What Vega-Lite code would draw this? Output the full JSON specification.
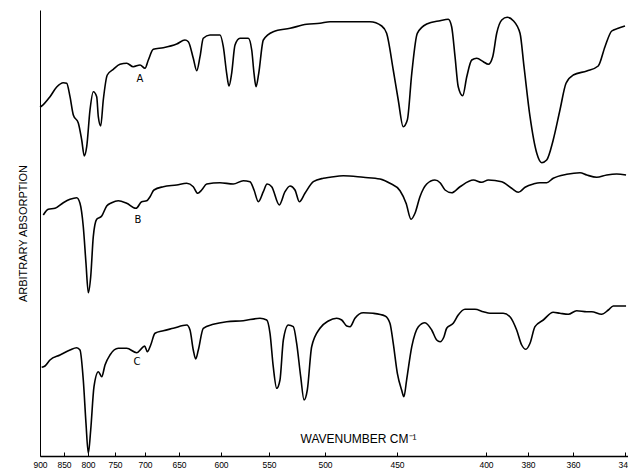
{
  "$schema": "https://vega.github.io/schema/vega-lite/v6.json",
  "width": 588,
  "height": 446,
  "autosize": "none",
  "padding": {"left": 40, "top": 10, "right": 0, "bottom": 12},
  "background": "white",
  "config": {"view": {"stroke": null}},
  "datasets": {
    "spectra": [
      {"sample":"A","wavenumber":900,"absorption":348},{"sample":"A","wavenumber":896.5,"absorption":349},{"sample":"A","wavenumber":879.2,"absorption":358.3},{"sample":"A","wavenumber":865.2,"absorption":368},{"sample":"A","wavenumber":851.5,"absorption":372.3},{"sample":"A","wavenumber":844.4,"absorption":371.7},{"sample":"A","wavenumber":837.5,"absorption":358.3},{"sample":"A","wavenumber":830.6,"absorption":340},{"sample":"A","wavenumber":820.2,"absorption":332},{"sample":"A","wavenumber":813.1,"absorption":315},{"sample":"A","wavenumber":807.7,"absorption":299},{"sample":"A","wavenumber":802.7,"absorption":308.3},{"sample":"A","wavenumber":796.3,"absorption":345},{"sample":"A","wavenumber":790.2,"absorption":363.3},{"sample":"A","wavenumber":783.9,"absorption":358.3},{"sample":"A","wavenumber":780.9,"absorption":338.3},{"sample":"A","wavenumber":776.5,"absorption":329},{"sample":"A","wavenumber":771.7,"absorption":355},{"sample":"A","wavenumber":764.3,"absorption":380},{"sample":"A","wavenumber":753.1,"absorption":385.7},{"sample":"A","wavenumber":741.7,"absorption":390.7},{"sample":"A","wavenumber":730.5,"absorption":391.7},{"sample":"A","wavenumber":719.5,"absorption":388.3},{"sample":"A","wavenumber":708.3,"absorption":390},{"sample":"A","wavenumber":700,"absorption":386.7},{"sample":"A","wavenumber":695.1,"absorption":395},{"sample":"A","wavenumber":687.8,"absorption":405.7},{"sample":"A","wavenumber":673.1,"absorption":407.3},{"sample":"A","wavenumber":653.4,"absorption":411},{"sample":"A","wavenumber":642.9,"absorption":415},{"sample":"A","wavenumber":638.9,"absorption":413.3},{"sample":"A","wavenumber":633,"absorption":396.7},{"sample":"A","wavenumber":628.9,"absorption":384.3},{"sample":"A","wavenumber":625,"absorption":398.3},{"sample":"A","wavenumber":621.1,"absorption":416.7},{"sample":"A","wavenumber":613.1,"absorption":420},{"sample":"A","wavenumber":601.2,"absorption":420},{"sample":"A","wavenumber":597.6,"absorption":408.3},{"sample":"A","wavenumber":594.1,"absorption":381.7},{"sample":"A","wavenumber":591.7,"absorption":369},{"sample":"A","wavenumber":588.9,"absorption":381.7},{"sample":"A","wavenumber":585.4,"absorption":410},{"sample":"A","wavenumber":580.2,"absorption":416.7},{"sample":"A","wavenumber":571.6,"absorption":416.7},{"sample":"A","wavenumber":568,"absorption":405},{"sample":"A","wavenumber":565.6,"absorption":381.7},{"sample":"A","wavenumber":563.5,"absorption":368.3},{"sample":"A","wavenumber":560.7,"absorption":381.7},{"sample":"A","wavenumber":555.9,"absorption":415},{"sample":"A","wavenumber":546.2,"absorption":423.3},{"sample":"A","wavenumber":531.2,"absorption":426.7},{"sample":"A","wavenumber":516.4,"absorption":430.7},{"sample":"A","wavenumber":504.5,"absorption":431.7},{"sample":"A","wavenumber":496.5,"absorption":433.3},{"sample":"A","wavenumber":489.6,"absorption":433.3},{"sample":"A","wavenumber":468.8,"absorption":433.3},{"sample":"A","wavenumber":460.6,"absorption":429},{"sample":"A","wavenumber":457.2,"absorption":421.7},{"sample":"A","wavenumber":452.6,"absorption":385},{"sample":"A","wavenumber":449.3,"absorption":355},{"sample":"A","wavenumber":446.5,"absorption":328.3},{"sample":"A","wavenumber":444.2,"absorption":335},{"sample":"A","wavenumber":441.7,"absorption":381.7},{"sample":"A","wavenumber":438.6,"absorption":421.7},{"sample":"A","wavenumber":433.3,"absorption":431},{"sample":"A","wavenumber":425.8,"absorption":434.3},{"sample":"A","wavenumber":421.2,"absorption":435.7},{"sample":"A","wavenumber":419.3,"absorption":428.3},{"sample":"A","wavenumber":417.4,"absorption":398.3},{"sample":"A","wavenumber":415.6,"absorption":368.3},{"sample":"A","wavenumber":413.1,"absorption":359.3},{"sample":"A","wavenumber":410.8,"absorption":378.3},{"sample":"A","wavenumber":408,"absorption":395},{"sample":"A","wavenumber":405.2,"absorption":396.7},{"sample":"A","wavenumber":401.5,"absorption":393.3},{"sample":"A","wavenumber":398.9,"absorption":390.7},{"sample":"A","wavenumber":396.8,"absorption":398.3},{"sample":"A","wavenumber":394.9,"absorption":421.7},{"sample":"A","wavenumber":392.5,"absorption":435},{"sample":"A","wavenumber":389.9,"absorption":437.7},{"sample":"A","wavenumber":387,"absorption":434.3},{"sample":"A","wavenumber":383.8,"absorption":421.7},{"sample":"A","wavenumber":381.9,"absorption":388.3},{"sample":"A","wavenumber":379.1,"absorption":338.3},{"sample":"A","wavenumber":376.1,"absorption":301.7},{"sample":"A","wavenumber":373.9,"absorption":292.3},{"sample":"A","wavenumber":371.7,"absorption":295},{"sample":"A","wavenumber":368.8,"absorption":315},{"sample":"A","wavenumber":365.8,"absorption":345},{"sample":"A","wavenumber":363.1,"absorption":371.7},{"sample":"A","wavenumber":359.9,"absorption":380},{"sample":"A","wavenumber":354.7,"absorption":384},{"sample":"A","wavenumber":350.3,"absorption":389},{"sample":"A","wavenumber":347.7,"absorption":408.3},{"sample":"A","wavenumber":345.1,"absorption":424},{"sample":"A","wavenumber":342.6,"absorption":426.7},{"sample":"A","wavenumber":340,"absorption":429},
      {"sample":"B","wavenumber":893.1,"absorption":240},{"sample":"B","wavenumber":882.7,"absorption":245.7},{"sample":"B","wavenumber":868.8,"absorption":246.7},{"sample":"B","wavenumber":851.5,"absorption":252.3},{"sample":"B","wavenumber":837.5,"absorption":255.7},{"sample":"B","wavenumber":823.5,"absorption":257.3},{"sample":"B","wavenumber":816.7,"absorption":251.7},{"sample":"B","wavenumber":809.8,"absorption":228.3},{"sample":"B","wavenumber":804.2,"absorption":191.7},{"sample":"B","wavenumber":799.4,"absorption":162.3},{"sample":"B","wavenumber":795,"absorption":178.3},{"sample":"B","wavenumber":790.2,"absorption":218.3},{"sample":"B","wavenumber":783.9,"absorption":235.7},{"sample":"B","wavenumber":774.6,"absorption":239},{"sample":"B","wavenumber":765.4,"absorption":249},{"sample":"B","wavenumber":756.1,"absorption":252.3},{"sample":"B","wavenumber":744.5,"absorption":254.3},{"sample":"B","wavenumber":730.5,"absorption":251.7},{"sample":"B","wavenumber":715,"absorption":246.7},{"sample":"B","wavenumber":705.5,"absorption":253.3},{"sample":"B","wavenumber":697.5,"absorption":254.3},{"sample":"B","wavenumber":692.6,"absorption":258.3},{"sample":"B","wavenumber":686.8,"absorption":265},{"sample":"B","wavenumber":673.1,"absorption":268.3},{"sample":"B","wavenumber":653.4,"absorption":270},{"sample":"B","wavenumber":640.8,"absorption":271.7},{"sample":"B","wavenumber":633,"absorption":268.3},{"sample":"B","wavenumber":627.7,"absorption":261.7},{"sample":"B","wavenumber":623,"absorption":265},{"sample":"B","wavenumber":617,"absorption":271},{"sample":"B","wavenumber":601.2,"absorption":272.3},{"sample":"B","wavenumber":587.2,"absorption":271},{"sample":"B","wavenumber":576.8,"absorption":274.3},{"sample":"B","wavenumber":569.8,"absorption":273.3},{"sample":"B","wavenumber":565.6,"absorption":265},{"sample":"B","wavenumber":561.1,"absorption":253.3},{"sample":"B","wavenumber":555.9,"absorption":263.3},{"sample":"B","wavenumber":552,"absorption":271},{"sample":"B","wavenumber":547.6,"absorption":268.3},{"sample":"B","wavenumber":540.8,"absorption":250},{"sample":"B","wavenumber":535.7,"absorption":263.3},{"sample":"B","wavenumber":531.2,"absorption":269},{"sample":"B","wavenumber":526.8,"absorption":265},{"sample":"B","wavenumber":522.9,"absorption":253.3},{"sample":"B","wavenumber":517.9,"absorption":261.7},{"sample":"B","wavenumber":510.4,"absorption":273.3},{"sample":"B","wavenumber":501.5,"absorption":276.7},{"sample":"B","wavenumber":496.5,"absorption":277.7},{"sample":"B","wavenumber":487.3,"absorption":279.3},{"sample":"B","wavenumber":473.4,"absorption":277.7},{"sample":"B","wavenumber":461.8,"absorption":276},{"sample":"B","wavenumber":454.9,"absorption":271.7},{"sample":"B","wavenumber":448.3,"absorption":264.3},{"sample":"B","wavenumber":444.9,"absorption":251.7},{"sample":"B","wavenumber":442.1,"absorption":235.7},{"sample":"B","wavenumber":439.9,"absorption":241.7},{"sample":"B","wavenumber":437.1,"absorption":258.3},{"sample":"B","wavenumber":433.3,"absorption":271},{"sample":"B","wavenumber":428.7,"absorption":275},{"sample":"B","wavenumber":425.8,"absorption":272.3},{"sample":"B","wavenumber":423,"absorption":265},{"sample":"B","wavenumber":419.3,"absorption":262.3},{"sample":"B","wavenumber":414.6,"absorption":268.3},{"sample":"B","wavenumber":407.1,"absorption":275},{"sample":"B","wavenumber":402.4,"absorption":272.7},{"sample":"B","wavenumber":398.9,"absorption":275},{"sample":"B","wavenumber":392.5,"absorption":273.3},{"sample":"B","wavenumber":387.8,"absorption":266.7},{"sample":"B","wavenumber":384.6,"absorption":262.7},{"sample":"B","wavenumber":381.4,"absorption":267.7},{"sample":"B","wavenumber":377.6,"absorption":271},{"sample":"B","wavenumber":374.7,"absorption":272.3},{"sample":"B","wavenumber":371.7,"absorption":272.3},{"sample":"B","wavenumber":368.8,"absorption":276.7},{"sample":"B","wavenumber":362.8,"absorption":280.7},{"sample":"B","wavenumber":357.3,"absorption":282.3},{"sample":"B","wavenumber":354.7,"absorption":280},{"sample":"B","wavenumber":350.9,"absorption":277.7},{"sample":"B","wavenumber":347,"absorption":280},{"sample":"B","wavenumber":343.2,"absorption":281},{"sample":"B","wavenumber":339.3,"absorption":280},
      {"sample":"C","wavenumber":896.5,"absorption":87.7},{"sample":"C","wavenumber":889.6,"absorption":89},{"sample":"C","wavenumber":879.2,"absorption":95},{"sample":"C","wavenumber":858.3,"absorption":100},{"sample":"C","wavenumber":837.5,"absorption":105},{"sample":"C","wavenumber":823.5,"absorption":107.3},{"sample":"C","wavenumber":816.7,"absorption":105},{"sample":"C","wavenumber":809.8,"absorption":75},{"sample":"C","wavenumber":804.2,"absorption":31.7},{"sample":"C","wavenumber":799.4,"absorption":1.7},{"sample":"C","wavenumber":795,"absorption":25},{"sample":"C","wavenumber":788.9,"absorption":68.3},{"sample":"C","wavenumber":780.9,"absorption":83.3},{"sample":"C","wavenumber":774.6,"absorption":78.3},{"sample":"C","wavenumber":768.5,"absorption":90},{"sample":"C","wavenumber":759.3,"absorption":100},{"sample":"C","wavenumber":744.5,"absorption":106.7},{"sample":"C","wavenumber":730.5,"absorption":106.7},{"sample":"C","wavenumber":713.8,"absorption":102.3},{"sample":"C","wavenumber":705.5,"absorption":106.7},{"sample":"C","wavenumber":700.7,"absorption":109},{"sample":"C","wavenumber":696.6,"absorption":103.3},{"sample":"C","wavenumber":691.6,"absorption":110},{"sample":"C","wavenumber":685.3,"absorption":121.7},{"sample":"C","wavenumber":673.1,"absorption":124.3},{"sample":"C","wavenumber":658.4,"absorption":126.7},{"sample":"C","wavenumber":640.8,"absorption":130},{"sample":"C","wavenumber":636.9,"absorption":125},{"sample":"C","wavenumber":633,"absorption":105},{"sample":"C","wavenumber":630.1,"absorption":96},{"sample":"C","wavenumber":627,"absorption":105},{"sample":"C","wavenumber":621.1,"absorption":126.7},{"sample":"C","wavenumber":609.2,"absorption":130.7},{"sample":"C","wavenumber":594.1,"absorption":133.3},{"sample":"C","wavenumber":576.8,"absorption":134.3},{"sample":"C","wavenumber":559.4,"absorption":136.7},{"sample":"C","wavenumber":552.4,"absorption":135},{"sample":"C","wavenumber":549.1,"absorption":121.7},{"sample":"C","wavenumber":546.2,"absorption":88.3},{"sample":"C","wavenumber":543.1,"absorption":66.7},{"sample":"C","wavenumber":540.2,"absorption":75},{"sample":"C","wavenumber":537.2,"absorption":115},{"sample":"C","wavenumber":532.8,"absorption":130},{"sample":"C","wavenumber":528.3,"absorption":128.3},{"sample":"C","wavenumber":525.3,"absorption":111.7},{"sample":"C","wavenumber":521.7,"absorption":78.3},{"sample":"C","wavenumber":518.7,"absorption":55},{"sample":"C","wavenumber":515.8,"absorption":65},{"sample":"C","wavenumber":511.9,"absorption":108.3},{"sample":"C","wavenumber":504.5,"absorption":126.7},{"sample":"C","wavenumber":497.7,"absorption":134},{"sample":"C","wavenumber":491.9,"absorption":136.7},{"sample":"C","wavenumber":488.4,"absorption":135},{"sample":"C","wavenumber":484.9,"absorption":129},{"sample":"C","wavenumber":482.6,"absorption":128.3},{"sample":"C","wavenumber":479.2,"absorption":136.7},{"sample":"C","wavenumber":473.4,"absorption":142.3},{"sample":"C","wavenumber":466.5,"absorption":141.7},{"sample":"C","wavenumber":458.3,"absorption":139},{"sample":"C","wavenumber":454.9,"absorption":131.7},{"sample":"C","wavenumber":452.6,"absorption":111.7},{"sample":"C","wavenumber":449.8,"absorption":81.7},{"sample":"C","wavenumber":447.4,"absorption":65},{"sample":"C","wavenumber":446.1,"absorption":58.3},{"sample":"C","wavenumber":444.6,"absorption":75},{"sample":"C","wavenumber":441.7,"absorption":108.3},{"sample":"C","wavenumber":438,"absorption":128.3},{"sample":"C","wavenumber":434.3,"absorption":132.3},{"sample":"C","wavenumber":430.5,"absorption":125},{"sample":"C","wavenumber":427.7,"absorption":115},{"sample":"C","wavenumber":425.8,"absorption":113.3},{"sample":"C","wavenumber":423.6,"absorption":118.3},{"sample":"C","wavenumber":422.1,"absorption":126.7},{"sample":"C","wavenumber":418.4,"absorption":131.7},{"sample":"C","wavenumber":415.6,"absorption":140},{"sample":"C","wavenumber":411.8,"absorption":145.7},{"sample":"C","wavenumber":406.2,"absorption":145.7},{"sample":"C","wavenumber":401.5,"absorption":143.3},{"sample":"C","wavenumber":398.1,"absorption":141.7},{"sample":"C","wavenumber":391.8,"absorption":141.7},{"sample":"C","wavenumber":388.6,"absorption":138.3},{"sample":"C","wavenumber":385.4,"absorption":125},{"sample":"C","wavenumber":383,"absorption":110},{"sample":"C","wavenumber":381,"absorption":105.7},{"sample":"C","wavenumber":379.1,"absorption":111.7},{"sample":"C","wavenumber":376.9,"absorption":128.3},{"sample":"C","wavenumber":373.2,"absorption":135},{"sample":"C","wavenumber":368.8,"absorption":142.7},{"sample":"C","wavenumber":365.8,"absorption":141.7},{"sample":"C","wavenumber":362.1,"absorption":140.7},{"sample":"C","wavenumber":358.6,"absorption":144.3},{"sample":"C","wavenumber":354.7,"absorption":143.3},{"sample":"C","wavenumber":352.8,"absorption":143.3},{"sample":"C","wavenumber":349,"absorption":140.7},{"sample":"C","wavenumber":346.4,"absorption":145},{"sample":"C","wavenumber":344.5,"absorption":149},{"sample":"C","wavenumber":339.3,"absorption":149}
    ],
    "labels": [
      {"sample":"A","wavenumber":708.3,"absorption":376},
      {"sample":"B","wavenumber":711.7,"absorption":235},
      {"sample":"C","wavenumber":713.3,"absorption":93}
    ]
  },
  "layer": [
    {
      "data": {"name": "spectra"},
      "mark": {"type": "line", "color": "black", "strokeWidth": 1.6, "interpolate": "monotone"},
      "encoding": {
        "x": {
          "field": "wavenumber", "type": "quantitative",
          "scale": {"domain": [900,850,800,750,700,650,600,550,500,450,400,380,360,340,338], "range": [0,24,48,75,105,139,181,229,285,357,446,488,533,585,588], "nice": false, "zero": false},
          "axis": {
            "values": [900,850,800,750,700,650,600,550,500,450,400,380,360,340],
            "grid": false,
            "domainColor": "black", "domainWidth": 1.5,
            "tickColor": "black", "tickSize": -4, "tickWidth": 1,
            "labelFont": "Liberation Sans", "labelFontSize": 8.5, "labelColor": "black", "labelPadding": 8,
            "labelOverlap": false, "labelFlush": false,
            "title": "WAVENUMBER  CM⁻¹",
            "titleFont": "Liberation Sans", "titleFontSize": 12, "titleFontWeight": "normal", "titleColor": "black",
            "titleX": 318, "titleY": -14, "titleAlign": "center", "titleBaseline": "alphabetic", "titleAnchor": null
          }
        },
        "y": {
          "field": "absorption", "type": "quantitative",
          "scale": {"domain": [-1, 445], "nice": false, "zero": false},
          "axis": {
            "grid": false, "ticks": false, "labels": false,
            "domainColor": "black", "domainWidth": 1,
            "title": "ARBITRARY ABSORPTION",
            "titleFont": "Liberation Sans", "titleFontSize": 11, "titleFontWeight": "normal", "titleColor": "black",
            "titlePadding": 12
          }
        },
        "detail": {"field": "sample", "type": "nominal"},
        "order": {"field": "wavenumber", "sort": "descending"}
      }
    },
    {
      "data": {"name": "labels"},
      "mark": {"type": "text", "font": "DejaVu Sans", "fontSize": 10, "fill": "black", "color": "black", "baseline": "middle", "align": "center"},
      "encoding": {
        "x": {"field": "wavenumber", "type": "quantitative"},
        "y": {"field": "absorption", "type": "quantitative"},
        "text": {"field": "sample", "type": "nominal"}
      }
    }
  ]
}
